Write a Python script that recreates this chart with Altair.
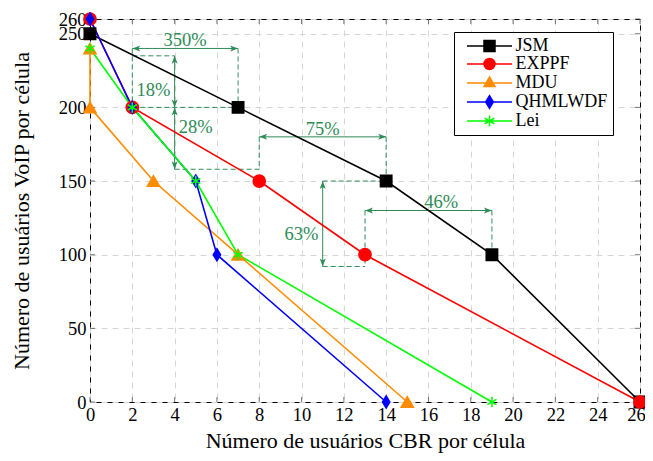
import altair as alt
import pandas as pd

# ---------------- data ----------------
series_names = ["JSM", "EXPPF", "MDU", "QHMLWDF", "Lei"]
series_colors = ["#000000", "#ff0000", "#ff8c00", "#0000ff", "#00ff00"]

jsm_x = [0, 7, 14, 19, 26]
jsm_y = [250, 200, 150, 100, 0]
exppf_x = [0, 2, 8, 13, 26]
exppf_y = [260, 200, 150, 100, 0]
mdu_x = [0, 0, 3, 7, 15]
mdu_y = [240, 200, 150, 100, 0]
qhm_x = [0, 2, 5, 6, 14]
qhm_y = [260, 200, 150, 100, 0]
lei_x = [0, 2, 5, 7, 19]
lei_y = [240, 200, 150, 100, 0]

x_ticks = [0, 2, 4, 6, 8, 10, 12, 14, 16, 18, 20, 22, 24, 26]
y_ticks = [0, 50, 100, 150, 200, 250, 260]

# annotation arrows (double headed)
arrow_x1 = [2, 4, 4, 8, 11, 13]
arrow_y1 = [240, 235, 200, 180, 150, 130]
arrow_x2 = [7, 4, 4, 14, 11, 19]
arrow_y2 = [240, 200, 158, 180, 92, 130]

# annotation dashed helper segments
dash_x1 = [2, 7, 2, 2, 4, 8, 14, 11, 11, 13, 19]
dash_y1 = [240, 240, 200, 235, 158, 180, 180, 150, 92, 130, 130]
dash_x2 = [2, 7, 7, 4, 8, 8, 14, 14, 13, 13, 19]
dash_y2 = [200, 200, 200, 235, 158, 158, 150, 150, 92, 92, 100]

# annotation labels
label_text = ["350%", "18%", "28%", "75%", "63%", "46%"]
label_x = [4.5, 3.0, 5.0, 11.0, 10.0, 16.6]
label_y = [246, 212, 187, 185.5, 114, 136]

# ---------------- tables ----------------
rows = []
for name, xs_, ys_ in zip(series_names, [jsm_x, exppf_x, mdu_x, qhm_x, lei_x],
                          [jsm_y, exppf_y, mdu_y, qhm_y, lei_y]):
    for i, (a, b) in enumerate(zip(xs_, ys_)):
        rows.append({"series": name, "x": a, "y": b, "ord": i})
df = pd.DataFrame(rows)

arrows = pd.DataFrame({"x": arrow_x1, "y": arrow_y1, "x2": arrow_x2, "y2": arrow_y2})
heads = []
for a, b, c, d in zip(arrow_x1, arrow_y1, arrow_x2, arrow_y2):
    if b == d:  # horizontal
        heads.append({"x": a, "y": b, "ang": 180})
        heads.append({"x": c, "y": d, "ang": 0})
    else:  # vertical, top to bottom
        heads.append({"x": a, "y": b, "ang": 270})
        heads.append({"x": c, "y": d, "ang": 90})
heads = pd.DataFrame(heads)
dashes = pd.DataFrame({"x": dash_x1, "y": dash_y1, "x2": dash_x2, "y2": dash_y2})
labels = pd.DataFrame({"t": label_text, "x": label_x, "y": label_y})
xt = pd.DataFrame({"x": x_ticks})
yt = pd.DataFrame({"y": y_ticks})
leg_df = pd.DataFrame({"series": series_names, "x": [0] * 5, "y": [0] * 5})

W, H = 550, 383
FONT = "Liberation Serif"
GREEN = "#2e8b57"

xs = alt.Scale(domain=[0, 26], nice=False, zero=False)
ys = alt.Scale(domain=[0, 260], nice=False, zero=False)

marker_shapes = {
    "JSM": "square",
    "EXPPF": "circle",
    "MDU": "triangle-up",
    "QHMLWDF": "M0,-1.15L0.7,0L0,1.15L-0.7,0Z",
    "Lei": "M0,-1V1M-0.87,-0.5L0.87,0.5M-0.87,0.5L0.87,-0.5",
}
marker_sizes = {"JSM": 130, "EXPPF": 150, "MDU": 150, "QHMLWDF": 110, "Lei": 110}

L = "M-4.1,0H4.1"
legend_paths = [
    L + "M-1,-1H1V1H-1Z",
    L + "M1,0A1,1 0 1,1 -1,0A1,1 0 1,1 1,0Z",
    L + "M0,-1.1L1,0.65L-1,0.65Z",
    L + "M0,-1.15L0.7,0L0,1.15L-0.7,0Z",
    L + "M0,-1V1M-0.87,-0.5L0.87,0.5M-0.87,0.5L0.87,-0.5",
]

leg_common = dict(orient="none", legendX=364, legendY=13, padding=5,
                  fillColor="white", strokeColor="black", cornerRadius=0,
                  labelFont=FONT, labelFontSize=18, labelColor="black",
                  symbolSize=121, symbolStrokeWidth=1.5, symbolOffset=21.5,
                  labelOffset=17, rowPadding=0, title=None, symbolOpacity=1,
                  labelLimit=300)


def cenc():
    return alt.Color("series:N", scale=alt.Scale(domain=series_names, range=series_colors),
                     legend=alt.Legend(**leg_common))


def senc():
    return alt.Stroke("series:N", scale=alt.Scale(domain=series_names, range=series_colors),
                      legend=alt.Legend(**leg_common))


x_axis = alt.Axis(values=x_ticks, grid=True, gridDash=[6, 5], gridColor="#d6d6d6",
                  domain=False, ticks=False, labelFont=FONT, labelFontSize=18.5,
                  labelColor="black", labelPadding=3, labelFlush=False,
                  labelOffset={"condition": {"test": "datum.value == 26", "value": -4},
                               "value": 0},
                  title="Número de usuários CBR por célula", titleFont=FONT,
                  titleFontSize=22, titleFontWeight="normal", titleColor="black",
                  titlePadding=7)
y_axis = alt.Axis(values=y_ticks, grid=True, gridDash=[6, 5], gridColor="#d6d6d6",
                  domain=False, ticks=False, labelFont=FONT, labelFontSize=18.5,
                  labelColor="black", labelPadding=4, labelOverlap=False, labelFlush=False,
                  title="Número de usuários VoIP por célula", titleFont=FONT,
                  titleFontSize=22, titleFontWeight="normal", titleColor="black",
                  titlePadding=25)

bx = alt.X("x:Q", scale=xs, axis=x_axis)
by = alt.Y("y:Q", scale=ys, axis=y_axis)

xtick_b = alt.Chart(xt).mark_rule(color="#555", strokeWidth=0.8).encode(
    x=bx, y=alt.value(H), y2=alt.value(H - 5))
xtick_t = alt.Chart(xt).mark_rule(color="#555", strokeWidth=0.8).encode(
    x=bx, y=alt.value(0), y2=alt.value(5))
ytick_l = alt.Chart(yt).mark_rule(color="#555", strokeWidth=0.8).encode(
    y=by, x=alt.value(0), x2=alt.value(5))
ytick_r = alt.Chart(yt).mark_rule(color="#555", strokeWidth=0.8).encode(
    y=by, x=alt.value(W), x2=alt.value(W - 5))

dash_layer = alt.Chart(dashes).mark_rule(color=GREEN, strokeWidth=1, strokeDash=[5, 3]).encode(
    x=bx, y=by, x2="x2:Q", y2="y2:Q")
arrow_layer = alt.Chart(arrows).mark_rule(color=GREEN, strokeWidth=1).encode(
    x=bx, y=by, x2="x2:Q", y2="y2:Q")
head_layer = alt.Chart(heads).mark_point(
    shape="M0,0L-2,-0.75L-1.5,0L-2,0.75Z", filled=True, size=64, color=GREEN, opacity=1
).encode(x=bx, y=by, angle=alt.Angle("ang:Q", scale=None))
text_layer = alt.Chart(labels).mark_text(font=FONT, fontSize=18.5, color=GREEN,
                                         align="center", baseline="middle").encode(
    x=bx, y=by, text="t:N")

lines = alt.Chart(df).mark_line(strokeWidth=1.6).encode(
    x=bx, y=by, order="ord:Q", color=cenc())

marker_layers = []
for name in series_names:
    marker_layers.append(
        alt.Chart(df).transform_filter(alt.datum.series == name).mark_point(
            shape=marker_shapes[name], filled=True, size=marker_sizes[name],
            strokeWidth=1.5, opacity=1
        ).encode(x=bx, y=by, color=cenc(), stroke=senc())
    )

leg_layer = alt.Chart(leg_df).mark_point(opacity=0, filled=True).encode(
    x=bx, y=by, color=cenc(), stroke=senc(),
    shape=alt.Shape("series:N", scale=alt.Scale(domain=series_names, range=legend_paths),
                    legend=alt.Legend(**leg_common)),
)

chart = alt.layer(
    xtick_b, xtick_t, ytick_l, ytick_r, dash_layer, arrow_layer, head_layer,
    text_layer, lines, *marker_layers, leg_layer
).properties(
    width=W, height=H,
    autosize=alt.AutoSizeParams(type="none"),
    padding={"left": 82, "top": 11, "right": 5, "bottom": 51},
).configure_view(stroke="black", strokeWidth=1).configure_legend(
    strokeWidth=1
)

chart.save("out.html", embed_options={"renderer": "svg", "actions": False})
